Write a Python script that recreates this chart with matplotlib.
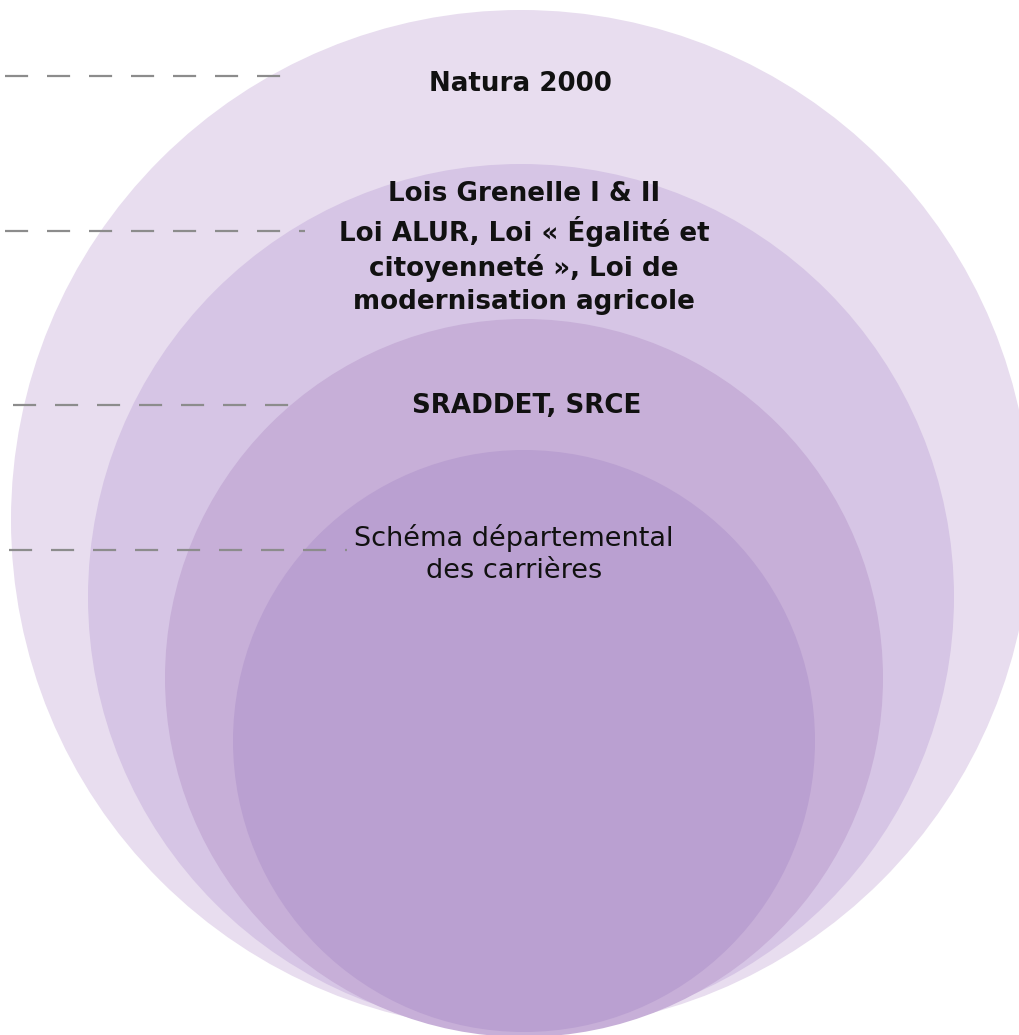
import matplotlib.pyplot as plt
from matplotlib.patches import Circle

# nested levels, outer to inner
levels = ["Natura 2000",
          "Lois Grenelle I & II\nLoi ALUR, Loi « Égalité et\ncitoyenneté », Loi de\nmodernisation agricole",
          "SRADDET, SRCE",
          "Schéma départemental\ndes carrières"]
radii = [510, 433, 359, 291]
centers = [(521, 520), (521, 597), (524, 678), (524, 741)]
colors = ["#e8ddef", "#d6c5e5", "#c7afd8", "#baa0d1"]
weights = ["bold", "bold", "bold", "normal"]

label_pos = [(520, 84), (524, 248), (527, 406), (514, 554)]
dash_y = [76, 231, 405, 550]
dash_x = [(5, 281), (5, 305), (13, 290), (9, 347)]

W, H = 1019, 1035
fig = plt.figure(figsize=(W / 100, H / 100), dpi=100)
ax = fig.add_axes([0, 0, 1, 1])
ax.set_xlim(0, W)
ax.set_ylim(H, 0)
ax.axis("off")

for (cx, cy), r, c in zip(centers, radii, colors):
    ax.add_patch(Circle((cx, cy), r, facecolor=c, edgecolor="none"))

for y, (x0, x1) in zip(dash_y, dash_x):
    ax.plot([x0, x1], [y, y], color="#8c8c8c", lw=1.6,
            linestyle=(0, (10.4, 8.5)), solid_capstyle="butt")

for txt, (x, y), w in zip(levels, label_pos, weights):
    ax.text(x, y, txt, ha="center", va="center",
            fontsize=19.5 if w == "normal" else 18.8,
            fontweight=w, family="DejaVu Sans", linespacing=1.33,
            color="#111111")

fig.savefig("out.png", dpi=100)
